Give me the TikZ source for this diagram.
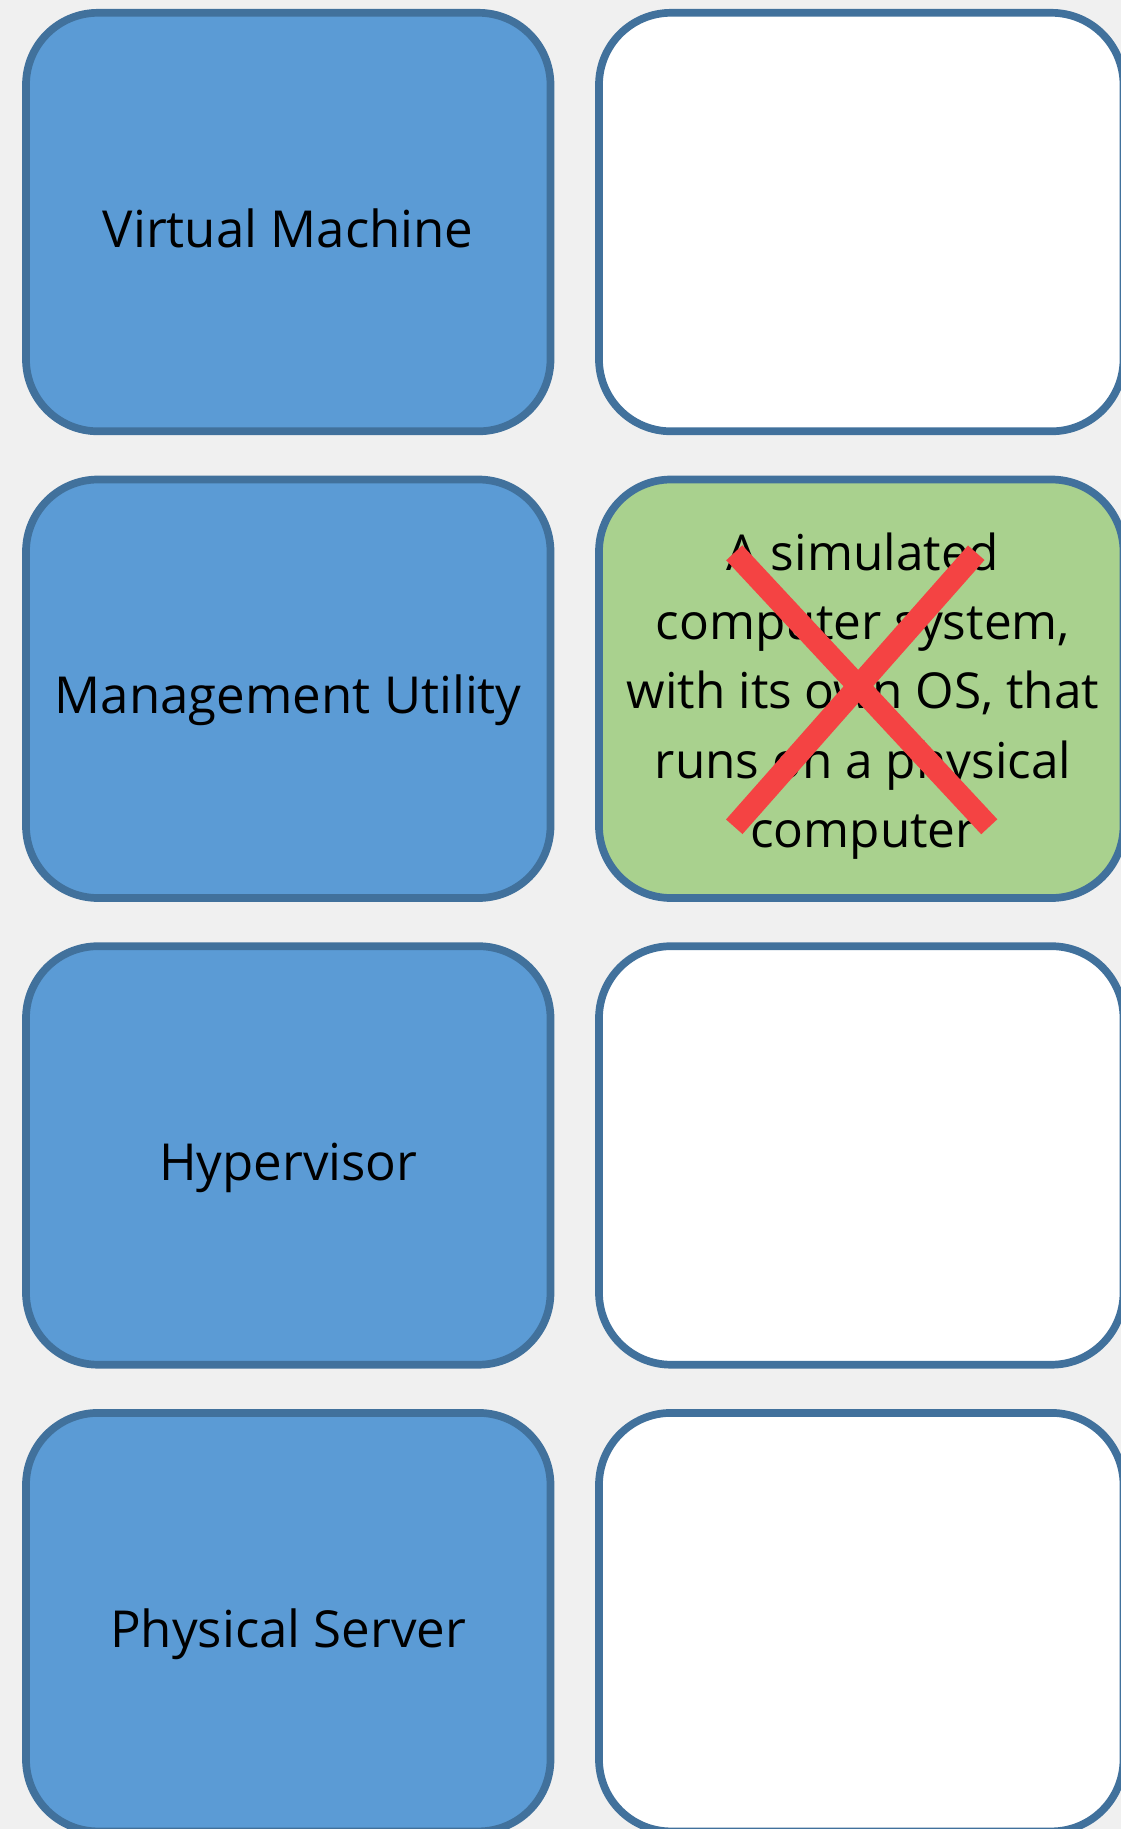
\documentclass[tikz,border=0pt]{standalone}
\usepackage{fontspec}
\setmainfont{Open Sans}
\definecolor{bgcol}{HTML}{F0F0F0}
\definecolor{edgecol}{HTML}{41719C}
\definecolor{termblue}{HTML}{5B9BD5}
\definecolor{defgreen}{HTML}{A9D18E}
\definecolor{xred}{HTML}{F44343}
\begin{document}
\begin{tikzpicture}[x=1pt,y=-1pt,
  card/.style={draw=edgecol, line width=7.7pt, rounded corners=72pt,
    minimum width=524.5pt, minimum height=418.5pt, inner sep=0pt, outer sep=0pt},
  term/.style={card, fill=termblue, text height=50pt, text depth=0pt,
    font=\fontsize{51}{62}\selectfont},
  slot/.style={card, fill=white},
  filled/.style={card, fill=defgreen},
  deftext/.style={align=center, inner sep=0pt, font=\fontsize{49.5}{69.3}\selectfont},
  xmark/.style={draw=xred, line width=22pt, line cap=butt}]
\useasboundingbox (0,0) rectangle (1121,1829);
\clip (0,0) rectangle (1121,1829);
\fill[bgcol] (0,0) rectangle (1121,1829);
% left column
\node[term] (t1) at (288.25,222.05) {Virtual Machine};
\node[term] (t2) at (288.25,688.75) {Management Utility};
\node[term] (t3) at (288.25,1155.45) {Hypervisor};
\node[term] (t4) at (288.25,1622.15) {Physical Server};
% right column
\node[slot] (d1) at (861.25,222.05) {};
\node[filled] (d2) at (861.25,688.75) {};
\node[slot] (d3) at (861.25,1155.45) {};
\node[slot] (d4) at (861.25,1622.15) {};
\node[deftext] (vmdef) at (863,696) {A simulated\\computer system,\\with its own OS, that\\runs on a physical\\computer};
% red cross
\coordinate (xa) at ([shift={(-127,-136)}]d2.center);
\coordinate (xb) at ([shift={(128,138)}]d2.center);
\coordinate (xc) at ([shift={(-127,138)}]d2.center);
\coordinate (xd) at ([shift={(115,-136)}]d2.center);
\draw[xmark] (xa) -- (xb);
\draw[xmark] (xc) -- (xd);
\end{tikzpicture}
\end{document}
